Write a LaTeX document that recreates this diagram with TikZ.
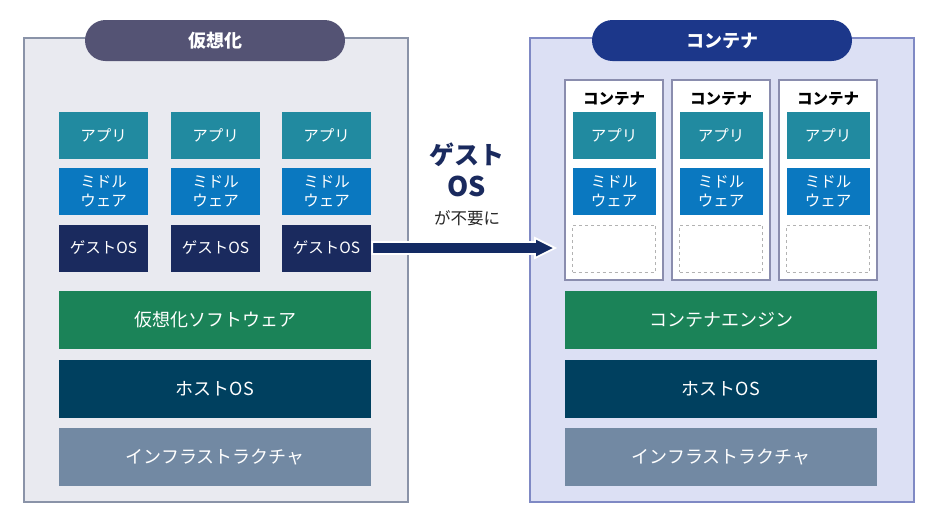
\documentclass[tikz,border=0pt]{standalone}
\usepackage{fontspec}
\setmainfont{Noto Sans CJK JP}
\definecolor{leftbg}{HTML}{E9EAF0}
\definecolor{leftbd}{HTML}{8A93A8}
\definecolor{pillA}{HTML}{545374}
\definecolor{cteal}{HTML}{218AA0}
\definecolor{cblue}{HTML}{0A78C0}
\definecolor{cnavy}{HTML}{1A2A5E}
\definecolor{cgreen}{HTML}{1B8358}
\definecolor{chost}{HTML}{00405F}
\definecolor{cinfra}{HTML}{7289A3}
\definecolor{rightbg}{HTML}{DCE0F4}
\definecolor{rightbd}{HTML}{7F89C4}
\definecolor{pillB}{HTML}{1C378A}
\definecolor{carrow}{HTML}{132A63}
\definecolor{cbox}{HTML}{8A8DAE}
\tikzset{
  panel/.style={rectangle, line width=1.2pt, minimum width=384pt, minimum height=464pt, inner sep=0pt},
  pill/.style={rectangle, rounded corners=20.5pt, minimum width=260pt, minimum height=41pt, text=white, font=\fontsize{18}{21}\selectfont\bfseries, inner sep=0pt},
  small/.style={rectangle, minimum width=89pt, minimum height=47pt, text=white, inner sep=0pt, align=center, font=\fontsize{15.5}{19.5}\selectfont},
  smallr/.style={small, minimum width=83pt},
  bar/.style={rectangle, minimum width=312pt, minimum height=58pt, text=white, inner sep=0pt, font=\fontsize{18}{22}\selectfont},
  cbx/.style={rectangle, draw=cbox, line width=1.3pt, fill=white, minimum width=98pt, minimum height=200pt, inner sep=0pt},
  clabel/.style={font=\fontsize{15.5}{18}\selectfont\bfseries, text=black, inner sep=0pt},
  empt/.style={rectangle, draw=black!30, dashed, line width=0.9pt, minimum width=83pt, minimum height=47pt, inner sep=0pt},
}
\begin{document}
\begin{tikzpicture}[x=1pt,y=-1pt]
\fill[white] (0,0) rectangle (940,523);
\useasboundingbox (0,0) rectangle (940,523);
% left panel
\node[panel, draw=leftbd, fill=leftbg] (lpanel) at (216,270) {};
\node[pill, fill=pillA] (ltitle) at (215,40.5) {仮想化};
\foreach \i/\x in {1/103.5, 2/215.5, 3/326.5} {
  \node[small, fill=cteal] (la\i) at (\x,135.5) {アプリ};
  \node[small, fill=cblue] (lm\i) at (\x,191.5) {ミドル\\ウェア};
  \node[small, fill=cnavy] (lg\i) at (\x,248) {ゲストOS};
}
\node[bar, fill=cgreen] (lsoft) at (215,320) {仮想化ソフトウェア};
\node[bar, fill=chost] (lhost) at (215,388.5) {ホストOS};
\node[bar, fill=cinfra] (linfra) at (215,457) {インフラストラクチャ};
% right panel
\node[panel, draw=rightbd, fill=rightbg] (rpanel) at (722,270) {};
\node[pill, fill=pillB] (rtitle) at (722,40.5) {コンテナ};
\foreach \i/\x in {1/614, 2/721, 3/828} {
  \node[cbx] (rc\i) at (\x,180) {};
  \node[clabel] (rl\i) at (\x,98.5) {コンテナ};
  \node[smallr, fill=cteal] (ra\i) at (\x,135.5) {アプリ};
  \node[smallr, fill=cblue] (rm\i) at (\x,191.5) {ミドル\\ウェア};
  \node[empt] (re\i) at (\x,248.5) {};
}
\node[bar, fill=cgreen] (rengine) at (721,320) {コンテナエンジン};
\node[bar, fill=chost] (rhost) at (721,388.5) {ホストOS};
\node[bar, fill=cinfra] (rinfra) at (721,457) {インフラストラクチャ};
% middle text
\node[font=\fontsize{25}{29}\selectfont\bfseries, text=cnavy, inner sep=0pt] (mg) at (467,155) {ゲスト};
\node[font=\fontsize{27}{30}\selectfont\bfseries, text=cnavy, inner sep=0pt] (mos) at (467,186) {OS};
\node[font=\fontsize{16.5}{19}\selectfont, text=black!85, inner sep=0pt] (mfu) at (467,218) {が不要に};
% arrow
\coordinate (aend) at (555,248);
\path (lg3.east) ++(1,0) coordinate (astart);
\filldraw[fill=carrow, draw=white, line width=1.8pt, line join=miter]
  (astart |- 0,242) -- (535,242) -- (535,238) -- (aend) -- (535,258) -- (535,254) -- (astart |- 0,254) -- cycle;
\end{tikzpicture}
\end{document}
